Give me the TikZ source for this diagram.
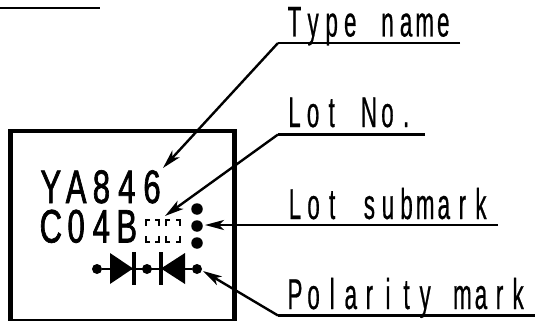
\documentclass[tikz,border=0pt]{standalone}
\usepackage{fontspec}
\setmainfont{Liberation Sans}
\newfontfamily\drafty[FakeStretch=0.52,FakeBold=0.5]{Liberation Sans}
\newfontfamily\marky[FakeStretch=0.66,FakeBold=1.4]{Liberation Sans}
\usetikzlibrary{arrows.meta}
\newlength\pitchlen
\def\mnseq#1{\mnaux#1\relax}
\def\mnaux#1{\ifx#1\relax\else\makebox[\pitchlen][c]{#1}\expandafter\mnaux\fi}
\def\mngap{\hspace*{\pitchlen}}
\tikzset{
  x=1pt,y=-1pt,
  frame/.style={line width=4.4pt,line cap=butt},
  leader/.style={line width=2.4pt,-{Stealth[length=19pt,width=10pt,inset=5pt]}},
  rule/.style={line width=2.2pt},
  lab/.style={anchor=base west,inner sep=0pt,font=\drafty\fontsize{43}{43}\selectfont\setlength\pitchlen{18.6pt}},
  marktext/.style={anchor=base west,inner sep=0pt,font=\marky\fontsize{47}{47}\selectfont\setlength\pitchlen{25.3pt}},
  pin/.style={circle,fill=black,inner sep=0pt,minimum size=11.5pt},
  smallpin/.style={circle,fill=black,inner sep=0pt,minimum size=10pt},
  diode/.style={fill=black},
  bracket/.style={line width=2pt},
}
\begin{document}
\begin{tikzpicture}
\useasboundingbox (0,0) rectangle (535,321);
\draw[line width=2pt] (0,8) -- (100,8);
% package outline
\draw[frame] (10.5,321) -- (10.5,131) -- (234.5,131) -- (234.5,321);
\draw[line width=1.2pt] (10,320) -- (234,320);
% marking text
\node[marktext] (t1) at (38,203) {\mnseq{YA846}};
\node[marktext] (t2) at (38,242.5) {\mnseq{C04B}};
% lot boxes
\foreach \xa/\xb in {146/159,166/180}{
  \draw[bracket] (\xa+4,220) -- (\xa,220) -- (\xa,226);
  \draw[bracket] (\xb-4,220) -- (\xb,220) -- (\xb,226);
  \draw[bracket] (\xa+4,242) -- (\xa,242) -- (\xa,236);
  \draw[bracket] (\xb-4,242) -- (\xb,242) -- (\xb,236);
}
% dots
\node[pin] (d1) at (197,209) {};
\node[pin] (d2) at (197,226) {};
\node[pin] (d3) at (197,243) {};
% polarity symbol
\node[smallpin] (p1) at (97,269) {};
\node[smallpin] (p2) at (147,269) {};
\node[smallpin] (p3) at (197,269) {};
\draw[line width=2.4pt] (p1) -- (p3);
\fill[diode] (110,253) -- (133,268.5) -- (110,284) -- cycle;
\fill[diode] (185,253) -- (161,268.5) -- (185,284) -- cycle;
\draw[line width=4pt] (134,252) -- (134,285);
\draw[line width=4pt] (161,252) -- (161,285);
% labels
\node[lab] (a) at (285,36.5) {\mnseq{Type}\mngap\mnseq{name}};
\node[lab] (b) at (285,127) {\mnseq{Lot}\mngap\mnseq{No.}};
\node[lab] (c) at (285.5,219) {\mnseq{Lot}\mngap\mnseq{submark}};
\node[lab] (e) at (285.5,309) {\mnseq{Polarity}\mngap\mnseq{mark}};
% leaders
\coordinate (ar) at (460,43);
\coordinate (ak) at (278,43);
\coordinate (at) at (163,168);
\draw[rule] (ar) -- (ak);
\draw[leader] (ak) -- (at);
\coordinate (br) at (425,134.5);
\coordinate (bk) at (278,134.5);
\coordinate (bt) at (165,216);
\draw[rule] (br) -- (bk);
\draw[leader] (bk) -- (bt);
\coordinate (cr) at (498,225);
\coordinate (ct) at (205,225);
\draw[leader] (cr) -- (ct);
\coordinate (er) at (535,315.5);
\coordinate (ek) at (278,315.5);
\coordinate (et) at (203,271);
\draw[rule] (er) -- (ek);
\draw[leader] (ek) -- (et);
\end{tikzpicture}
\end{document}
